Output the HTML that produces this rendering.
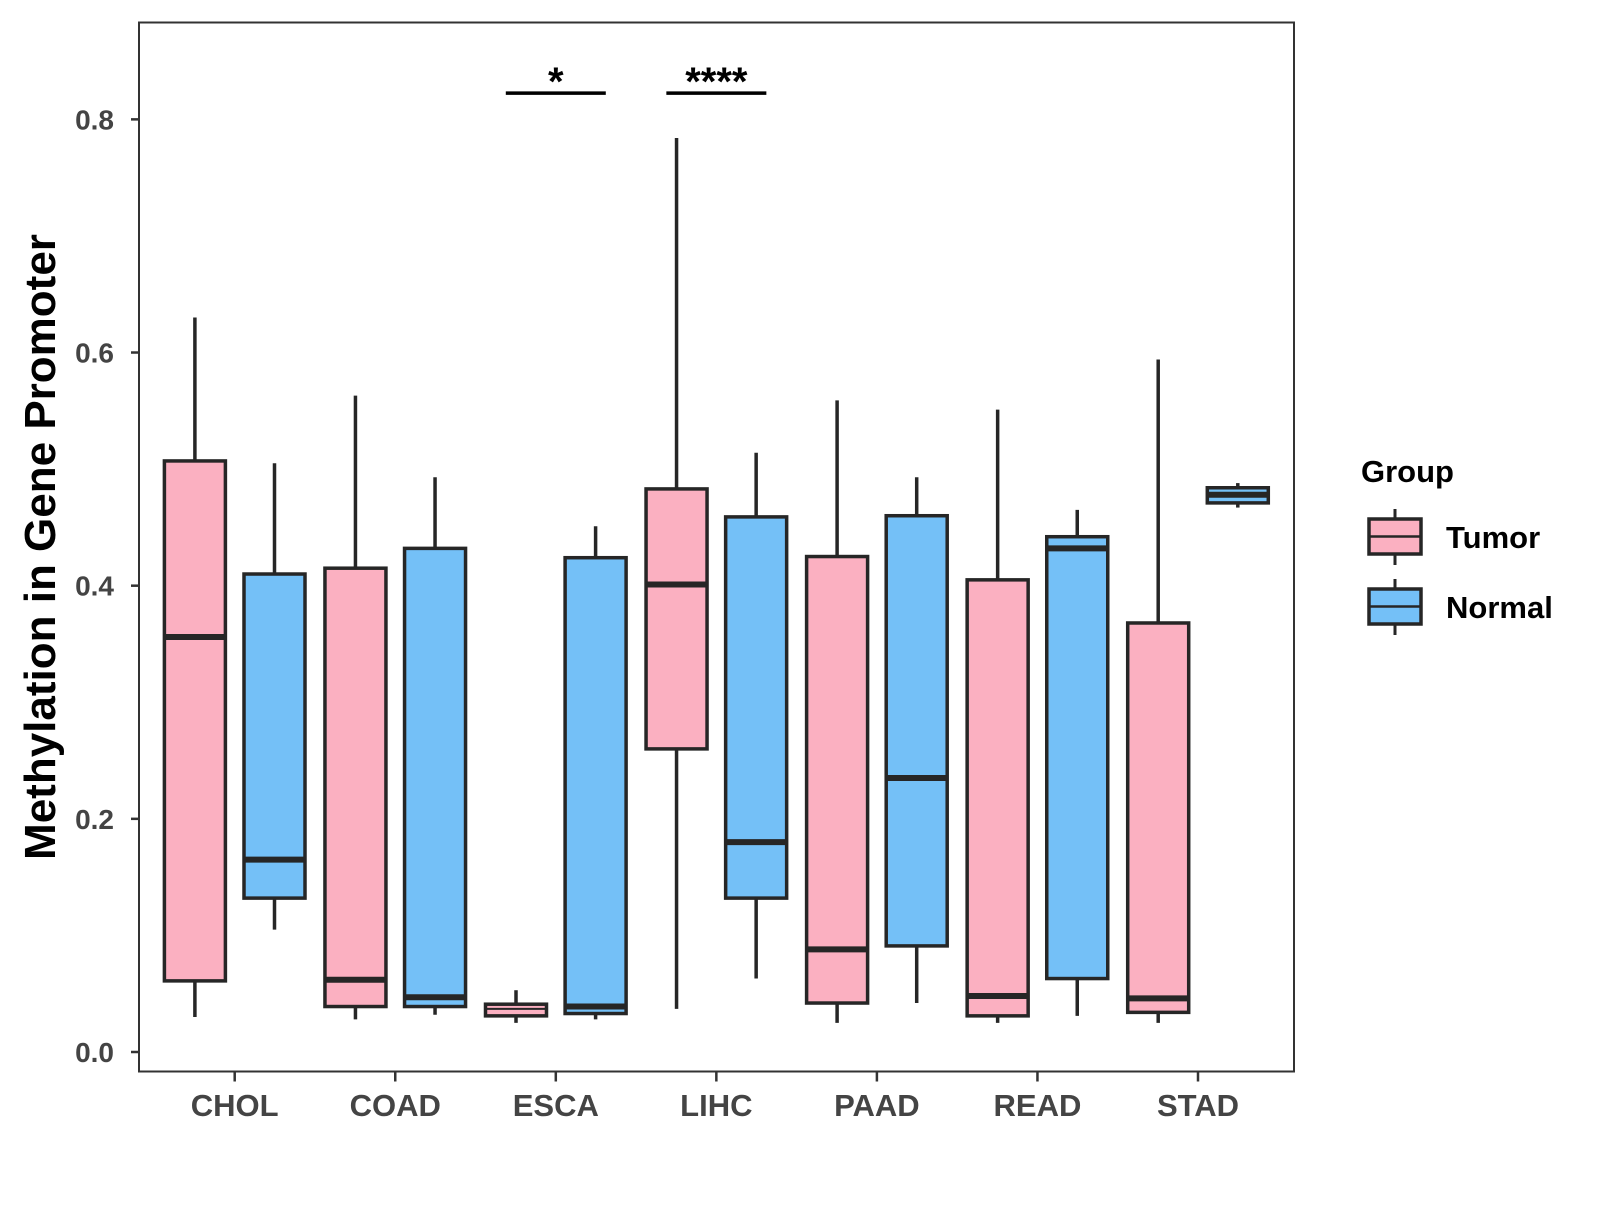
<!DOCTYPE html>
<html><head><meta charset="utf-8"><style>
body{margin:0;background:#fff;}
text{font-family:"Liberation Sans",Arial,sans-serif;font-weight:bold;}
</style></head><body>
<svg id="chart" width="1600" height="1200" xmlns="http://www.w3.org/2000/svg">
<rect x="0" y="0" width="1600" height="1200" fill="#fff"/>
<g id="plot"></g>
</svg>
<script>
const categories = ["CHOL","COAD","ESCA","LIHC","PAAD","READ","STAD"];
const groups = ["Tumor","Normal"];
// [whiskerLow, Q1, median, Q3, whiskerHigh]
const tumorStats = [
 [0.030,0.061,0.356,0.507,0.630],
 [0.028,0.039,0.062,0.415,0.563],
 [0.025,0.031,0.037,0.041,0.053],
 [0.037,0.260,0.401,0.483,0.784],
 [0.025,0.042,0.088,0.425,0.559],
 [0.025,0.031,0.048,0.405,0.551],
 [0.025,0.034,0.046,0.368,0.594]
];
const normalStats = [
 [0.105,0.132,0.165,0.410,0.505],
 [0.032,0.039,0.047,0.432,0.493],
 [0.028,0.033,0.039,0.424,0.451],
 [0.063,0.132,0.180,0.459,0.514],
 [0.042,0.091,0.235,0.460,0.493],
 [0.031,0.063,0.432,0.442,0.465],
 [0.467,0.471,0.478,0.484,0.488]
];
const yTicks = [0.0,0.2,0.4,0.6,0.8];
const yTickLabels = ["0.0","0.2","0.4","0.6","0.8"];
const sigCategories = ["ESCA","LIHC"];
const sigLabels = ["*","****"];
const sigLevel = 0.8225;

const NS="http://www.w3.org/2000/svg";
const g=document.getElementById('plot');
const P={l:139,t:22.5,r:1294,b:1071.5};
const y=v=>1052-v*1165.8;
const x=i=>234.7+i*160.55;
const colors={Tumor:"#FBB0C1",Normal:"#74C0F7"};
const off={Tumor:-39.8,Normal:39.8};
const bw=61;
function el(t,a,txt){const e=document.createElementNS(NS,t);for(const k in a)e.setAttribute(k,a[k]);if(txt!==undefined)e.textContent=txt;g.appendChild(e);return e;}

let e=el('rect',{x:P.l,y:P.t,width:P.r-P.l,height:P.b-P.t,fill:'none',stroke:'#333',"stroke-width":2});


yTicks.forEach((v,i)=>{
 let t=el('line',{x1:P.l-8,x2:P.l,y1:y(v),y2:y(v),stroke:'#333',"stroke-width":2.5});
 
 let l=el('text',{x:P.l-25,y:y(v)+10,"text-anchor":"end","font-size":28,fill:'#444'},yTickLabels[i]);
 
});
categories.forEach((c,i)=>{
 let t=el('line',{x1:x(i),x2:x(i),y1:P.b,y2:P.b+10,stroke:'#333',"stroke-width":2.5});
 
 let l=el('text',{x:x(i),y:1116,"text-anchor":"middle","font-size":31,fill:'#444'},c);
 
});
function box(s,cx,grp){
 const L=cx-bw/2;
 let w=el('line',{x1:cx,x2:cx,y1:y(s[4]),y2:y(s[0]),stroke:'#262626',"stroke-width":3.5});
 
 let r=el('rect',{x:L,y:y(s[3]),width:bw,height:y(s[1])-y(s[3]),fill:colors[grp],stroke:'#262626',"stroke-width":3.5});
 
 let m=el('line',{x1:L,x2:L+bw,y1:y(s[2]),y2:y(s[2]),stroke:'#262626',"stroke-width":(s[3]-s[1]<0.011?2:6)});
 
}
categories.forEach((c,i)=>{
 box(tumorStats[i],x(i)+off.Tumor,"Tumor");
 box(normalStats[i],x(i)+off.Normal,"Normal");
});
sigCategories.forEach((c,k)=>{
 const i=categories.indexOf(c);
 let b=el('line',{x1:x(i)-50,x2:x(i)+50,y1:y(sigLevel),y2:y(sigLevel),stroke:'#000',"stroke-width":3.5});
 
 let t=el('text',{x:x(i),y:y(sigLevel)+2,"text-anchor":"middle","font-size":40,fill:'#000'},sigLabels[k]);
 
});
let yt=el('text',{x:0,y:0,"text-anchor":"middle","font-size":44,fill:'#000',transform:'translate(55,547) rotate(-90)'},"Methylation in Gene Promoter");

let lt=el('text',{x:1361,y:482,"font-size":31,fill:'#000'},"Group");

groups.forEach((gname,k)=>{
 const top=519+k*70, cx=1395;
 let w=el('line',{x1:cx,x2:cx,y1:top-10,y2:top+46,stroke:'#262626',"stroke-width":3});
 
 let r=el('rect',{x:1369,y:top,width:52,height:35,fill:colors[gname],stroke:'#262626',"stroke-width":3.5});
 
 let m=el('line',{x1:1369,x2:1421,y1:top+17.5,y2:top+17.5,stroke:'#262626',"stroke-width":2.5});
 
 let t=el('text',{x:1446,y:top+29,"font-size":31,fill:'#000'},gname);
 
});
</script>
</body></html>
